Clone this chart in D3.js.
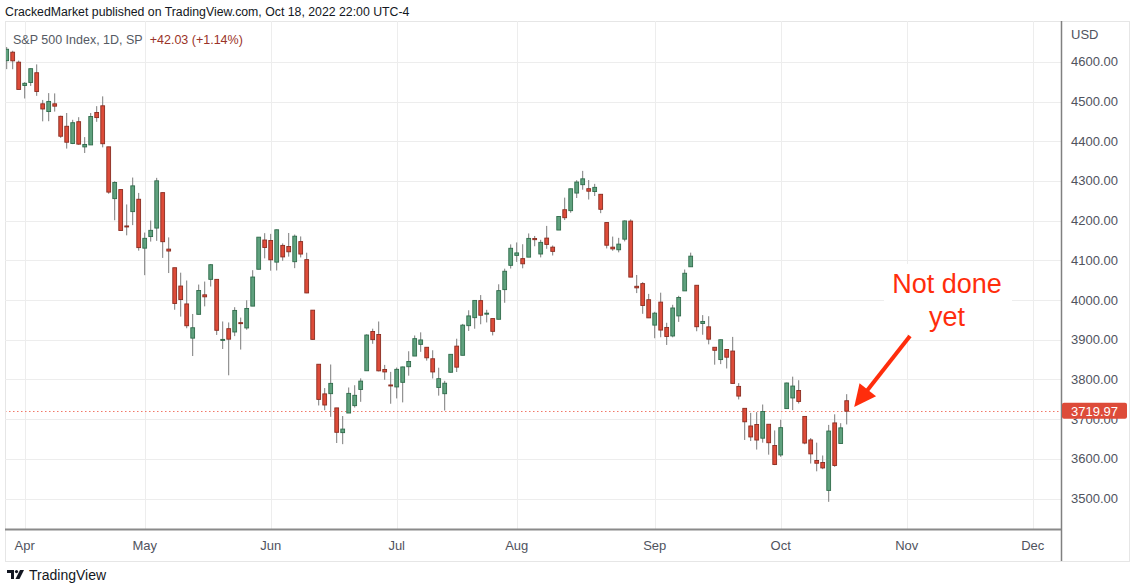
<!DOCTYPE html>
<html><head><meta charset="utf-8">
<script src="https://cdn.jsdelivr.net/npm/d3@7"></script>
<style>
html,body{margin:0;padding:0;background:#fff;}
svg{display:block;font-family:"Liberation Sans",Arial,sans-serif;}
</style></head>
<body>
<svg id="c" width="1137" height="585"></svg>
<script>
const dates = ["2022-03-29","2022-03-30","2022-03-31","2022-04-01","2022-04-04","2022-04-05","2022-04-06","2022-04-07","2022-04-08","2022-04-11","2022-04-12","2022-04-13","2022-04-14","2022-04-18","2022-04-19","2022-04-20","2022-04-21","2022-04-22","2022-04-25","2022-04-26","2022-04-27","2022-04-28","2022-04-29","2022-05-02","2022-05-03","2022-05-04","2022-05-05","2022-05-06","2022-05-09","2022-05-10","2022-05-11","2022-05-12","2022-05-13","2022-05-16","2022-05-17","2022-05-18","2022-05-19","2022-05-20","2022-05-23","2022-05-24","2022-05-25","2022-05-26","2022-05-27","2022-05-31","2022-06-01","2022-06-02","2022-06-03","2022-06-06","2022-06-07","2022-06-08","2022-06-09","2022-06-10","2022-06-13","2022-06-14","2022-06-15","2022-06-16","2022-06-17","2022-06-21","2022-06-22","2022-06-23","2022-06-24","2022-06-27","2022-06-28","2022-06-29","2022-06-30","2022-07-01","2022-07-05","2022-07-06","2022-07-07","2022-07-08","2022-07-11","2022-07-12","2022-07-13","2022-07-14","2022-07-15","2022-07-18","2022-07-19","2022-07-20","2022-07-21","2022-07-22","2022-07-25","2022-07-26","2022-07-27","2022-07-28","2022-07-29","2022-08-01","2022-08-02","2022-08-03","2022-08-04","2022-08-05","2022-08-08","2022-08-09","2022-08-10","2022-08-11","2022-08-12","2022-08-15","2022-08-16","2022-08-17","2022-08-18","2022-08-19","2022-08-22","2022-08-23","2022-08-24","2022-08-25","2022-08-26","2022-08-29","2022-08-30","2022-08-31","2022-09-01","2022-09-02","2022-09-06","2022-09-07","2022-09-08","2022-09-09","2022-09-12","2022-09-13","2022-09-14","2022-09-15","2022-09-16","2022-09-19","2022-09-20","2022-09-21","2022-09-22","2022-09-23","2022-09-26","2022-09-27","2022-09-28","2022-09-29","2022-09-30","2022-10-03","2022-10-04","2022-10-05","2022-10-06","2022-10-07","2022-10-10","2022-10-11","2022-10-12","2022-10-13","2022-10-14","2022-10-17","2022-10-18"];
const open = [4602.86,4624.20,4599.02,4540.32,4547.97,4572.45,4494.17,4474.65,4494.15,4462.64,4437.59,4394.30,4449.12,4385.63,4390.63,4472.26,4489.17,4385.83,4255.34,4278.14,4186.52,4222.58,4253.75,4130.61,4159.78,4181.18,4270.43,4128.17,4081.27,4035.18,3990.08,3903.95,3963.90,4013.02,4052.00,4051.98,3899.00,3927.76,3919.42,3942.94,3929.59,3984.60,4077.43,4151.09,4149.78,4095.41,4137.57,4134.72,4096.47,4147.12,4101.65,3974.39,3838.15,3763.52,3764.05,3728.18,3665.90,3715.31,3733.89,3774.71,3821.75,3920.76,3913.00,3825.09,3785.99,3781.00,3792.61,3831.98,3858.85,3888.26,3880.94,3851.95,3779.67,3763.99,3818.00,3883.79,3860.73,3935.32,3955.47,3998.43,3965.72,3953.22,3951.43,4026.13,4087.33,4112.38,4104.21,4107.96,4154.85,4115.87,4155.93,4133.11,4176.22,4227.40,4225.02,4269.37,4290.46,4280.40,4273.13,4266.31,4195.08,4133.09,4126.55,4153.26,4198.74,4034.58,4041.25,4000.67,3936.73,3994.66,3930.89,3909.43,3959.94,4022.94,4083.67,4037.12,3940.73,3932.41,3880.95,3849.91,3875.23,3871.40,3782.36,3727.14,3682.72,3686.44,3651.94,3687.01,3633.48,3609.78,3726.46,3753.25,3771.97,3706.74,3647.51,3595.86,3590.83,3520.37,3690.41,3638.65,3746.26];
const high = [4637.30,4627.77,4603.07,4548.70,4583.50,4593.45,4503.94,4521.16,4520.41,4464.35,4471.00,4453.92,4460.46,4410.31,4471.03,4488.29,4512.94,4385.83,4299.02,4278.14,4240.71,4308.45,4269.68,4169.81,4200.10,4307.66,4270.43,4157.69,4081.27,4068.82,4049.09,3964.80,4038.88,4046.46,4090.72,4051.98,3945.96,3943.42,3981.88,3955.68,3999.33,4075.14,4158.49,4168.34,4166.54,4177.51,4142.67,4168.78,4164.86,4160.14,4119.10,3974.39,3838.15,3778.18,3837.56,3728.18,3707.71,3779.65,3785.27,3802.58,3913.65,3927.72,3945.86,3836.50,3818.99,3829.82,3832.19,3870.91,3910.63,3918.50,3880.94,3873.41,3829.44,3796.41,3863.62,3902.44,3939.81,3974.13,3999.29,4012.44,3975.30,3953.22,4039.56,4078.95,4140.15,4144.95,4140.47,4167.66,4161.29,4151.58,4186.62,4137.30,4211.03,4257.91,4280.47,4301.79,4325.28,4302.18,4292.53,4266.31,4195.08,4159.77,4156.56,4200.54,4203.04,4062.99,4044.98,4015.37,3970.23,4018.43,3942.55,3987.89,4010.50,4076.81,4119.28,4037.12,3961.94,3959.14,3880.95,3900.45,3876.01,3907.07,3790.61,3727.14,3715.67,3717.53,3736.74,3687.01,3671.44,3698.35,3791.92,3806.91,3797.93,3706.74,3652.17,3640.66,3608.34,3685.41,3712.00,3689.73,3762.79];
const low = [4581.51,4581.32,4530.41,4507.57,4539.21,4514.17,4450.04,4450.30,4474.60,4408.38,4381.34,4392.70,4390.77,4370.30,4390.63,4448.76,4384.47,4267.62,4200.82,4175.04,4162.90,4188.63,4124.28,4062.51,4147.08,4148.91,4106.01,4067.91,3975.48,3958.17,3928.82,3858.87,3963.90,3983.99,4033.93,3911.91,3876.58,3810.32,3909.04,3875.13,3925.03,3984.60,4077.43,4104.88,4073.85,4074.37,4098.67,4109.18,4080.19,4107.20,4017.17,3900.16,3734.30,3722.30,3705.68,3639.77,3636.87,3715.31,3729.19,3743.52,3821.75,3889.66,3820.14,3799.02,3738.67,3752.10,3742.06,3809.37,3858.85,3869.34,3847.22,3802.36,3759.07,3721.56,3817.18,3818.63,3860.73,3922.03,3927.64,3938.84,3943.46,3910.74,3951.43,3992.97,4079.22,4096.02,4079.81,4107.96,4135.42,4107.31,4128.97,4112.09,4176.22,4201.41,4219.78,4256.90,4277.77,4253.08,4261.98,4218.70,4129.86,4124.03,4119.97,4147.59,4057.66,4017.42,3965.21,3954.53,3903.65,3906.21,3886.75,3906.03,3944.81,4022.94,4083.67,3921.28,3912.40,3888.28,3837.08,3838.50,3827.54,3789.49,3749.45,3647.47,3644.76,3623.29,3640.61,3610.40,3584.13,3604.93,3726.46,3722.66,3739.22,3636.66,3588.10,3568.45,3573.86,3491.58,3579.68,3638.65,3686.53];
const close = [4631.60,4602.45,4530.41,4545.86,4582.64,4525.12,4481.15,4500.21,4488.28,4412.53,4397.45,4446.59,4392.59,4391.69,4462.21,4459.45,4393.66,4271.78,4296.12,4175.20,4183.96,4287.50,4131.93,4155.38,4175.48,4300.17,4146.87,4123.34,3991.24,4001.05,3935.18,3930.08,4023.89,4008.01,4088.85,3923.68,3900.79,3901.36,3973.75,3941.48,3978.73,4057.84,4158.24,4132.15,4101.23,4176.82,4108.54,4121.43,4160.68,4115.77,4017.82,3900.86,3749.63,3735.48,3789.99,3666.77,3674.84,3764.79,3759.89,3795.73,3911.74,3900.11,3821.55,3818.83,3785.38,3825.33,3831.39,3845.08,3902.62,3899.38,3854.43,3818.80,3801.78,3790.38,3863.16,3830.85,3936.69,3959.90,3998.95,3961.63,3966.84,3921.05,4023.61,4072.43,4130.29,4118.63,4091.19,4155.17,4151.94,4145.19,4140.06,4122.47,4210.24,4207.27,4280.15,4297.14,4305.20,4274.04,4283.74,4228.48,4137.99,4128.73,4140.77,4199.12,4057.66,4030.61,3986.16,3955.00,3966.85,3924.26,3908.19,3979.87,4006.18,4067.36,4110.41,3932.69,3946.01,3901.35,3873.33,3899.89,3855.93,3789.93,3757.99,3693.23,3655.04,3647.29,3719.04,3640.47,3585.62,3678.43,3790.93,3783.28,3744.52,3639.66,3612.39,3588.84,3577.03,3669.91,3583.07,3677.95,3719.97];

const priceTicks = [3500,3600,3700,3800,3900,4000,4100,4200,4300,4400,4500,4600];
const monthLabels = ["Apr","May","Jun","Jul","Aug","Sep","Oct","Nov","Dec"];
const holidays = ["2022-04-15","2022-05-30","2022-06-20","2022-07-04","2022-09-05","2022-11-24"];
const lastPrice = 3719.97;
const legendName = "S&P 500 Index, 1D, SP";
const legendChange = "+42.03 (+1.14%)";
const headerText = "CrackedMarket published on TradingView.com, Oct 18, 2022 22:00 UTC-4";

// trading calendar (for time axis incl. future empty space)
const fmt = d3.utcFormat("%Y-%m-%d");
const cal = d3.utcDays(new Date(Date.UTC(2022,2,29)), new Date(Date.UTC(2022,11,31)))
  .filter(d => d.getUTCDay()!==0 && d.getUTCDay()!==6 && !holidays.includes(fmt(d)));
const calIdx = new Map(cal.map((d,i)=>[fmt(d), i]));

const data = dates.map((d,i)=>({i: calIdx.get(d), o: open[i], h: high[i], l: low[i], c: close[i]}));

const L = 5, R = 1061, T = 21, B = 529;
const x = d3.scaleLinear().domain([0, 1]).range([6.7, 12.7]);
const y = d3.scaleLinear().domain([3500, 4600]).range([498.5, 61.8]);

const svg = d3.select("#c");
svg.append("rect").attr("width",1137).attr("height",585).attr("fill","#fff");

// header
svg.append("text").attr("x",5).attr("y",16).attr("font-size",12.3).attr("fill","#131722").text(headerText);

// frame
svg.append("rect").attr("x",L+0.5).attr("y",T+0.5).attr("width",1129-L).attr("height",561-T)
  .attr("fill","#fff").attr("stroke","#e6e6e6");

// month ticks: first trading day of each month
const monthTicks = cal.filter((d,i)=> i>0 && cal[i-1].getUTCMonth()!==d.getUTCMonth()).map(d=>calIdx.get(fmt(d)));
const firstApr = cal.findIndex(d=>d.getUTCMonth()===3);
const mt = [firstApr].concat(monthTicks.filter(i=>i!==firstApr)).map((i,k)=>({i, label: monthLabels[k]})).filter(t=>t.label);

const grid = svg.append("g");
grid.selectAll("line.h").data(priceTicks).join("line")
  .attr("x1",L).attr("x2",R).attr("y1",d=>Math.round(y(d))+0.5).attr("y2",d=>Math.round(y(d))+0.5)
  .attr("stroke","#ededed");
grid.selectAll("line.v").data(mt).join("line")
  .attr("x1",d=>Math.round(x(d.i))+0.5).attr("x2",d=>Math.round(x(d.i))+0.5).attr("y1",T).attr("y2",B)
  .attr("stroke","#ededed");

// clip
svg.append("clipPath").attr("id","plot").append("rect").attr("x",L+1).attr("y",T+1).attr("width",R-L-1).attr("height",B-T-1);
const plot = svg.append("g").attr("clip-path","url(#plot)");

// last price dotted line
plot.append("line").attr("x1",L).attr("x2",R).attr("y1",Math.round(y(lastPrice))+0.5).attr("y2",Math.round(y(lastPrice))+0.5)
  .attr("stroke","#f07868").attr("stroke-dasharray","1.5,2.5");

// candles
const up = {fill:"#5fa17e", stroke:"#2f6b4b"}, dn = {fill:"#dd4b39", stroke:"#8a2c20"};
const cg = plot.append("g");
cg.selectAll("line.w").data(data).join("line")
  .attr("x1",d=>x(d.i)).attr("x2",d=>x(d.i)).attr("y1",d=>y(d.h)).attr("y2",d=>y(d.l))
  .attr("stroke","#7c7c7c").attr("stroke-width",1);
cg.selectAll("rect.b").data(data).join("rect")
  .attr("x",d=>x(d.i)-1.9).attr("width",3.8)
  .attr("y",d=>y(Math.max(d.o,d.c)))
  .attr("height",d=>Math.max(1, y(Math.min(d.o,d.c))-y(Math.max(d.o,d.c))))
  .attr("fill",d=>d.c>=d.o?up.fill:dn.fill)
  .attr("stroke",d=>d.c>=d.o?up.stroke:dn.stroke).attr("stroke-width",0.9);

// legend
const lg = svg.append("text").attr("x",13).attr("y",44).attr("font-size",12.5);
lg.append("tspan").attr("fill","#555a63").text(legendName);
lg.append("tspan").attr("dx",7).attr("fill","#9a3328").text(legendChange);

// time axis
svg.append("line").attr("x1",L).attr("x2",R).attr("y1",B+0.5).attr("y2",B+0.5).attr("stroke","#8a8a8a").attr("stroke-width",2);
svg.append("g").selectAll("text").data(mt).join("text")
  .attr("x",d=>x(d.i)).attr("y",550).attr("text-anchor","middle").attr("font-size",13).attr("fill","#50535e")
  .text(d=>d.label);

// price axis
svg.append("line").attr("x1",R+0.5).attr("x2",R+0.5).attr("y1",T).attr("y2",561).attr("stroke","#808080").attr("stroke-width",1.5);
svg.append("text").attr("x",1071).attr("y",39).attr("font-size",13).attr("fill","#50535e").text("USD");
svg.append("g").selectAll("text").data(priceTicks).join("text")
  .attr("x",1071).attr("y",d=>y(d)+4.5).attr("font-size",13).attr("fill","#50535e")
  .text(d=>d3.format(".2f")(d));
// last price tag (covers the 3700.00 label as in the original)
const ly = y(lastPrice);
svg.append("rect").attr("x",R+1).attr("y",ly-8.5).attr("width",65).attr("height",16).attr("rx",2).attr("fill","#dd4b39");
svg.append("text").attr("x",1071).attr("y",ly+4.5).attr("font-size",13).attr("fill","#fff").text(d3.format(".2f")(lastPrice));

// annotation
const last = data[data.length-1];
const tipX = x(last.i)+7.5, tipY = y((last.o+last.c)/2)+1;
const sx = 910, sy = 336;
const ux = tipX - sx, uy = tipY - sy, len = Math.hypot(ux,uy), nx = ux/len, ny = uy/len;
const ah = 22, aw = 10.5;
const bx = tipX - nx*ah, by = tipY - ny*ah;
svg.append("rect").attr("x",884).attr("y",264).attr("width",128).attr("height",70).attr("fill","#fff");
svg.append("line").attr("x1",sx).attr("y1",sy).attr("x2",bx+nx*2).attr("y2",by+ny*2).attr("stroke","#ff2d0c").attr("stroke-width",4);
svg.append("polygon").attr("points",[[tipX,tipY],[bx-ny*aw,by+nx*aw],[bx+ny*aw,by-nx*aw]].map(p=>p.join(",")).join(" ")).attr("fill","#ff2d0c");
svg.append("text").attr("x",947).attr("y",293).attr("text-anchor","middle").attr("font-size",27).attr("fill","#ff2d0c").text("Not done");
svg.append("text").attr("x",947).attr("y",326).attr("text-anchor","middle").attr("font-size",27).attr("fill","#ff2d0c").text("yet");

// TradingView footer logo
const fg = svg.append("g").attr("transform","translate(7,570)");
fg.append("path").attr("d","M0 0 H7 V9 H4 V3 H0 Z").attr("fill","#131722");
fg.append("circle").attr("cx",9.5).attr("cy",1.6).attr("r",1.6).attr("fill","#131722");
fg.append("path").attr("d","M13 0 H17 L12.5 9 H8.5 Z").attr("fill","#131722");
svg.append("text").attr("x",29).attr("y",580).attr("font-size",14).attr("fill","#131722").text("TradingView");
</script>
</body></html>
